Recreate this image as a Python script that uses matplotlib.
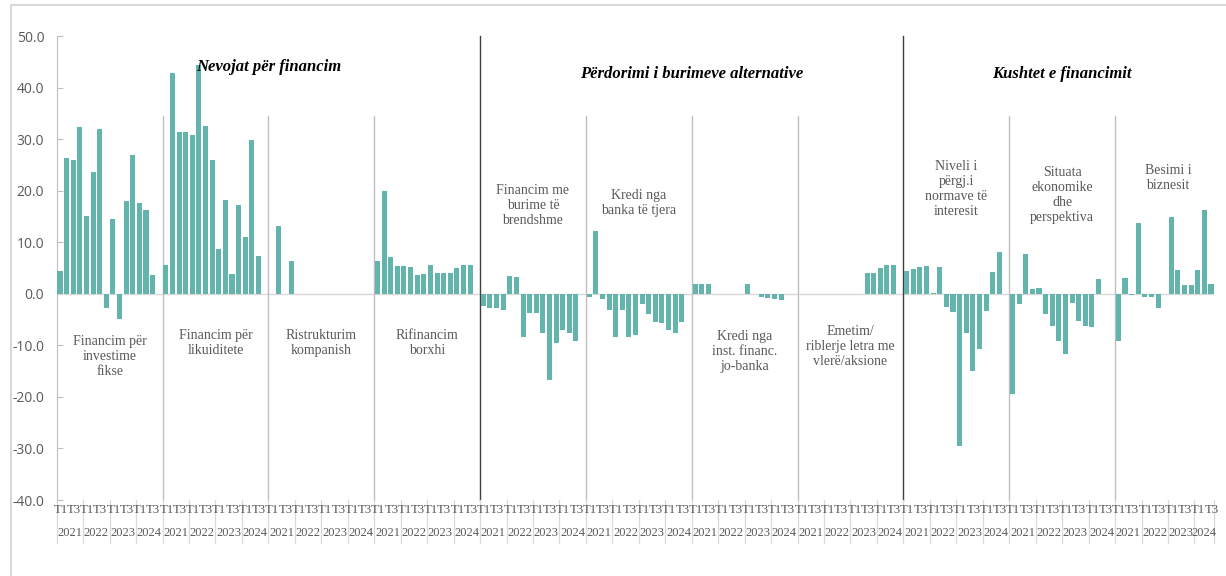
import numpy as np
import matplotlib
matplotlib.use("Agg")
import matplotlib.pyplot as plt
from matplotlib.transforms import blended_transform_factory
from matplotlib.patches import Rectangle

# te dhenat: 2021T1 - 2024T3 per secilin grup
years = ["2021", "2022", "2023", "2024"]
tick_quarters = ["T1", "T3"]

sections = ["Nevojat për financim", "Përdorimi i burimeve alternative", "Kushtet e financimit"]

group_names = [
    "Financim për\ninvestime\nfikse",
    "Financim për\nlikuiditete",
    "Ristrukturim\nkompanish",
    "Rifinancim\nborxhi",
    "Financim me\nburime të\nbrendshme",
    "Kredi nga\nbanka të tjera",
    "Kredi nga\ninst. financ.\njo-banka",
    "Emetim/\nriblerje letra me\nvlerë/aksione",
    "Niveli i\npërgj.i\nnormave të\ninteresit",
    "Situata\nekonomike\ndhe\nperspektiva",
    "Besimi i\nbiznesit",
]
group_name_y = [-12.2, -9.5, -9.5, -9.5, 17.1, 17.6, -11.2, -10.3, 20.3, 19.2, 22.5]

investime = [4.5, 26.3, 26.0, 32.3, 15.0, 23.6, 31.9, -2.8, 14.6, -4.8, 17.9, 26.9, 17.7, 16.3, 3.7]
likuiditete = [5.5, 42.9, 31.4, 31.4, 30.8, 44.3, 32.5, 26.0, 8.7, 18.1, 3.9, 17.2, 11.0, 29.8, 7.4]
ristrukturim = [0, 13.2, 0, 6.3, 0, 0, 0, 0, 0, 0, 0, 0, 0, 0, 0]
rifinancim = [6.3, 19.9, 7.2, 5.4, 5.4, 5.2, 3.7, 3.9, 5.6, 4.1, 4.1, 4.1, 5.0, 5.6, 5.6]
burime_brendshme = [-2.4, -2.8, -2.8, -3.1, 3.5, 3.3, -8.3, -3.7, -3.7, -7.7, -16.7, -9.6, -7.0, -7.7, -9.2]
kredi_banka = [-0.6, 12.1, -1.0, -3.1, -8.3, -3.1, -8.3, -8.0, -1.9, -3.9, -5.4, -5.7, -7.0, -7.7, -5.4]
kredi_jobanka = [1.9, 1.9, 1.9, 0, 0, 0, 0, 0, 1.9, 0, -0.6, -0.8, -1.0, -1.2, 0]
emetim = [0, 0, 0, 0, 0, 0, 0, 0, 0, 0, 4.1, 4.1, 5.0, 5.6, 5.6]
normat_interesit = [4.4, 4.9, 5.2, 5.4, 0.2, 5.1, -2.5, -3.6, -29.6, -7.6, -14.9, -10.8, -3.3, 4.2, 8.1]
situata_ekonomike = [-19.5, -2.0, 7.7, 0.9, 1.1, -4.0, -6.2, -9.2, -11.6, -1.8, -5.3, -6.3, -6.5, 2.9, 0]
besimi_biznesit = [-9.2, 3.1, -0.3, 13.7, -0.6, -0.6, -2.8, 0, 14.9, 4.7, 1.7, 1.7, 4.6, 16.2, 1.9]

groups = [investime, likuiditete, ristrukturim, rifinancim, burime_brendshme, kredi_banka,
          kredi_jobanka, emetim, normat_interesit, situata_ekonomike, besimi_biznesit]

serif = "Liberation Serif"
grey_txt = "#595959"
bar_col = "#64B4AE"
slot = 16  # 15 tremujore + 1 bosh

fig = plt.figure(figsize=(12.26, 5.76), dpi=100)
W, H = 1226, 576
ax = fig.add_axes([56.7 / W, 1 - 500 / H, (1214.3 - 56.7) / W, 464 / H])

n_slots = slot * (len(groups) - 1) + len(groups[-1])
for g, vals in enumerate(groups):
    x = g * slot + np.arange(len(vals))
    ax.bar(x, vals, width=0.76, color=bar_col, linewidth=0, zorder=3)
    ax.text(g * slot + 7.5, group_name_y[g], group_names[g], ha="center", va="center",
            fontsize=10, family=serif, color=grey_txt, linespacing=1.2, zorder=4)

ax.set_xlim(-0.5, n_slots - 0.5)
ax.set_ylim(-40, 50)
ax.set_yticks(np.arange(-40, 51, 10))
ax.set_yticklabels([f"{v:.1f}" for v in np.arange(-40, 51, 10)],
                   family="Open Sans", fontsize=10, color=grey_txt)
ax.set_xticks([])
ax.tick_params(axis="y", direction="in", length=4, width=0.8, color="#BFBFBF", pad=9)
for s in ["top", "right", "bottom"]:
    ax.spines[s].set_visible(False)
ax.spines["left"].set_color("#BFBFBF")
ax.axhline(0, color="#D9D9D9", lw=1, zorder=2)

# ndarjet e grupeve
for g in range(1, len(groups)):
    xb = g * slot - 0.5
    if g in (4, 8):
        ax.plot([xb, xb], [-40, 50], color="#404040", lw=1, zorder=2, clip_on=False)
    else:
        ax.plot([xb, xb], [-40, 34.5], color="#BFBFBF", lw=1, zorder=2, clip_on=False)

# titujt e seksioneve
for sx, sy, name in zip([31.5, 95.5, 151.5], [44.0, 42.6, 42.6], sections):
    ax.text(sx, sy, name, ha="center", va="center", fontsize=12, family=serif,
            fontweight="bold", fontstyle="italic", color="black", zorder=5)

# boshti x me dy nivele
tr = blended_transform_factory(ax.transData, ax.transAxes)
seps = []
for g, vals in enumerate(groups):
    for k, yr in enumerate(years):
        start = g * slot + 4 * k
        end = min(start + 4, g * slot + len(vals)) if g == len(groups) - 1 else start + 4
        for j, q in enumerate(tick_quarters):
            ax.text(start + 2 * j + 0.1, -0.022, q, transform=tr, ha="center", va="center",
                    fontsize=9.2, family=serif, color=grey_txt, clip_on=False)
        ax.text((start + end - 1) / 2, -0.071, yr, transform=tr, ha="center", va="center",
                fontsize=9, family=serif, color=grey_txt, clip_on=False)
        seps.append(start - 0.5)
seps.append(n_slots - 0.5)
for xs in seps:
    ax.plot([xs, xs], [0, -0.092], transform=tr, color="#D9D9D9", lw=0.9, clip_on=False)

# korniza
fig.patches.append(Rectangle((11 / W, -0.1), 1.2, 1.1 - 5 / H, transform=fig.transFigure,
                             fill=False, edgecolor="#D9D9D9", lw=1.5))

fig.savefig("out.png", dpi=100)
